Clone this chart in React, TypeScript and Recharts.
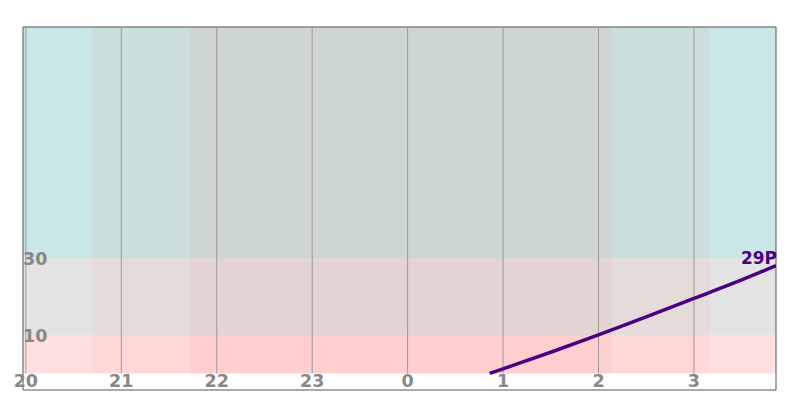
import { ComposedChart, Line, XAxis, YAxis, ReferenceArea, ReferenceLine, LabelList } from "recharts";

// hours after 20:00 on a continuous scale (24 = midnight)
const gridHours = [20, 21, 22, 23, 24, 25, 26, 27];
const yTicks = [10, 30];

const bandTeal = [30, 90];
const bandGrey = [10, 30];
const bandPink = [0, 10];
const twilightOuter = [20.69, 27.16];
const twilightInner = [21.72, 26.14];

const objectName = "29P";
const lineHours = [24.86, 25, 25.5, 26, 26.5, 27, 27.5, 27.86];
const lineAlt = [0, 1.2, 5.5, 10.0, 14.7, 19.5, 24.3, 28.0];

const data = lineHours.map((t, i) => ({ t, alt: lineAlt[i] }));

const X_DOMAIN: [number, number] = [19.97, 27.86];
const Y_DOMAIN: [number, number] = [-4.3, 90];
const labelFont = "DejaVu Sans, sans-serif";

const hourLabel = (h: number) => (props: any) => {
  const vb = props.viewBox || {};
  return (
    <text x={vb.x} y={387} textAnchor="middle" fontFamily={labelFont} fontWeight="bold" fontSize={17.5} fill="#888">
      {h % 24}
    </text>
  );
};

const altLabel = (v: number) => (props: any) => {
  const vb = props.viewBox || {};
  return (
    <text x={23} y={vb.y + 7} textAnchor="start" fontFamily={labelFont} fontWeight="bold" fontSize={17.5} fill="#888">
      {v}
    </text>
  );
};

function EndLabel(props: any) {
  const { x, y, index } = props;
  if (index !== data.length - 1) return null;
  return (
    <text x={x + 1} y={y - 2} textAnchor="end" fontFamily={labelFont} fontWeight="bold" fontSize={17} fill="#4b0082">
      {objectName}
    </text>
  );
}

export default function App() {
  return (
    <div style={{ position: "absolute", left: 0, top: 0 }}>
      <ComposedChart width={800} height={402} data={data} margin={{ top: 27, left: 23, right: 24, bottom: 12 }}>
        <XAxis dataKey="t" type="number" domain={X_DOMAIN} allowDataOverflow hide />
        <YAxis type="number" domain={Y_DOMAIN} allowDataOverflow hide />
        <ReferenceArea x1={X_DOMAIN[0]} x2={X_DOMAIN[1]} y1={bandTeal[0]} y2={bandTeal[1]} fill="#cbe6e6" fillOpacity={1} />
        <ReferenceArea x1={X_DOMAIN[0]} x2={X_DOMAIN[1]} y1={bandGrey[0]} y2={bandGrey[1]} fill="#e3e3e3" fillOpacity={1} />
        <ReferenceArea x1={X_DOMAIN[0]} x2={X_DOMAIN[1]} y1={bandPink[0]} y2={bandPink[1]} fill="#ffdfdf" fillOpacity={1} />
        <ReferenceArea x1={twilightOuter[0]} x2={twilightOuter[1]} y1={0} y2={90} fill="#ff0000" fillOpacity={0.035} />
        <ReferenceArea x1={twilightInner[0]} x2={twilightInner[1]} y1={0} y2={90} fill="#ff0000" fillOpacity={0.035} />
        {gridHours.map((h) => (
          <ReferenceLine key={h} segment={[{ x: h, y: 0 }, { x: h, y: 90 }]} stroke="#999" strokeWidth={1} />
        ))}
        {gridHours.map((h) => (
          <ReferenceLine key={"l" + h} x={h} stroke="none" label={{ content: hourLabel(h) }} />
        ))}
        {yTicks.map((v) => (
          <ReferenceLine key={"y" + v} y={v} stroke="none" label={{ content: altLabel(v) }} />
        ))}
        <ReferenceArea
          x1={X_DOMAIN[0]}
          x2={X_DOMAIN[1]}
          y1={Y_DOMAIN[0]}
          y2={Y_DOMAIN[1]}
          fill="none"
          stroke="#555"
          strokeWidth={1}
        />
        <Line type="monotone" dataKey="alt" stroke="#4b0082" strokeWidth={3.5} dot={false} isAnimationActive={false}>
          <LabelList dataKey="alt" content={<EndLabel />} />
        </Line>
      </ComposedChart>
    </div>
  );
}
